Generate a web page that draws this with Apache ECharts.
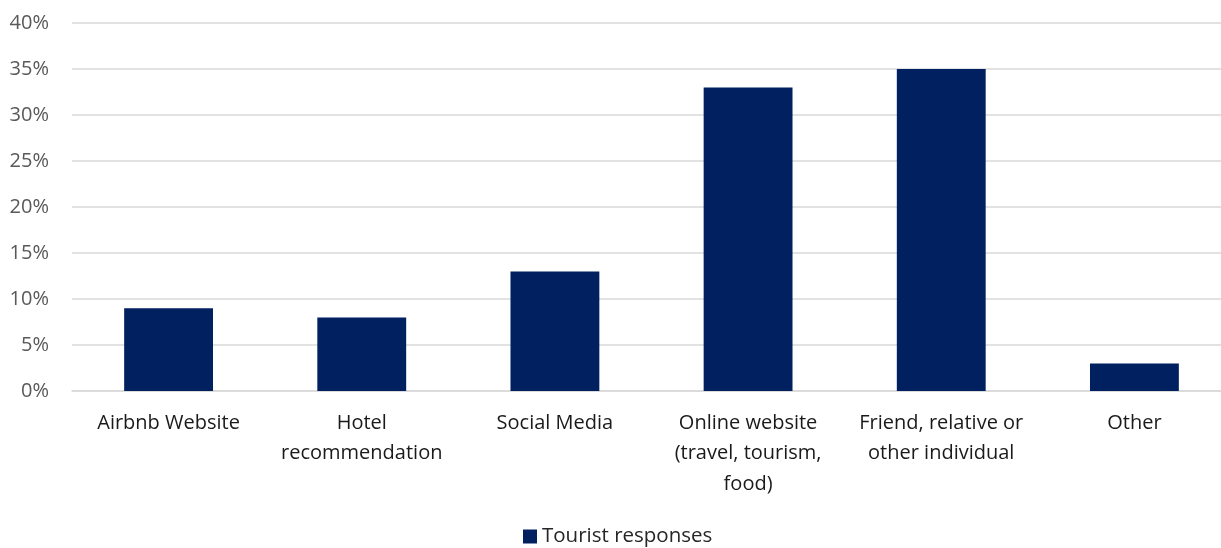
<!DOCTYPE html>
<html>
<head>
<meta charset="utf-8">
<script src="https://cdn.jsdelivr.net/npm/echarts@6/dist/echarts.min.js"></script>
<style>
  html, body { margin: 0; padding: 0; background: #fff; overflow: hidden; }
  #wrap { width: 1221px; height: 548px; overflow: hidden; }
  #chart { width: 1245px; height: 548px; }
</style>
</head>
<body>
<div id="wrap"><div id="chart"></div></div>
<script>
// Where tourists heard about the place they stayed
const categories = [
  'Airbnb Website',
  'Hotel\nrecommendation',
  'Social Media',
  'Online website\n(travel, tourism,\nfood)',
  'Friend, relative or\nother individual',
  'Other'
];
const seriesName = 'Tourist responses';
const responses = [9, 8, 13, 33, 35, 3];
const yTicks = [0, 5, 10, 15, 20, 25, 30, 35, 40];

const font = '"Open Sans", "Noto Sans", sans-serif';
const chart = echarts.init(document.getElementById('chart'), null, { renderer: 'canvas' });

chart.setOption({
  animation: false,
  textStyle: { fontFamily: font },
  grid: { left: 72, right: 14, top: 23, bottom: 157, containLabel: false },
  legend: {
    data: [seriesName],
    left: 518,
    top: 521,
    itemWidth: 14,
    itemHeight: 14,
    itemGap: 7,
    icon: 'rect',
    textStyle: { fontSize: 20.5, color: '#262626', fontFamily: font }
  },
  xAxis: {
    type: 'category',
    data: categories,
    axisLine: { show: true, lineStyle: { color: '#d9d9d9', width: 1.5 } },
    axisTick: { show: false },
    axisLabel: {
      interval: 0,
      margin: 17,
      fontSize: 20,
      lineHeight: 30.5,
      color: '#1a1a1a',
      fontFamily: font
    }
  },
  yAxis: {
    type: 'value',
    min: yTicks[0],
    max: yTicks[yTicks.length - 1],
    interval: 5,
    axisLine: { show: false },
    axisTick: { show: false },
    splitLine: { lineStyle: { color: '#d9d9d9', width: 1.5 } },
    axisLabel: {
      margin: 23,
      fontSize: 20,
      color: '#595959',
      fontFamily: font,
      formatter: v => v + '%'
    }
  },
  series: [{
    name: seriesName,
    type: 'bar',
    data: responses,
    barWidth: '46%',
    itemStyle: { color: '#002060' }
  }]
});
</script>
</body>
</html>
